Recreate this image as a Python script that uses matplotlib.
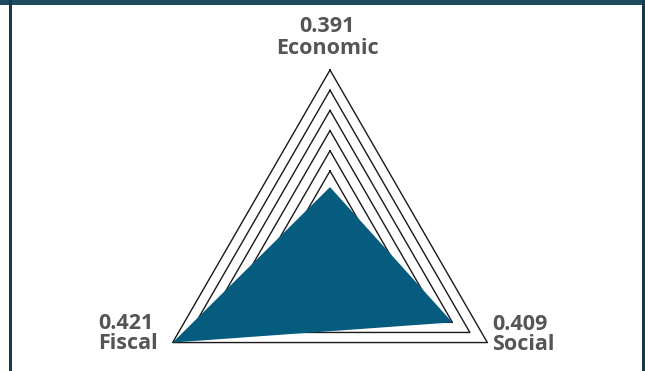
import numpy as np
import matplotlib
matplotlib.use("Agg")
import matplotlib.pyplot as plt

# ---- data ----
categories = ["Economic", "Social", "Fiscal"]
display_values = [0.391, 0.409, 0.421]
# radial position of each vertex in grid-ring units (outer ring = 9)
plotted_scores = [3.2, 7.0, 9.0]
ring_levels = [1, 2, 3, 4, 5, 6, 7, 8, 9]
angles_deg = [90, -30, 210]

W, H = 645, 371
fig = plt.figure(figsize=(W / 100, H / 100), dpi=100)
fig.patch.set_facecolor("white")

# polar axes placed so centre/radius match the reference
cx, cy, R = 330.0, 251.7, 181.7
ax = fig.add_axes([(cx - R) / W, (H - cy - R) / H, 2 * R / W, 2 * R / H],
                  projection="polar")
ax.set_facecolor("none")
ax.set_ylim(0, 9)
ax.grid(False)
ax.set_xticks([])
ax.set_yticks([])
ax.spines["polar"].set_visible(False)

theta = np.deg2rad(angles_deg)
theta_closed = np.append(theta, theta[0])
for lvl in ring_levels:
    ax.plot(theta_closed, [lvl] * len(theta_closed), color="#1a1a1a",
            lw=1.0, zorder=1, clip_on=False)

vals = np.append(plotted_scores, plotted_scores[0])
ax.fill(theta_closed, vals, color="#055C7E", zorder=2, lw=0, clip_on=False)

# labels
txt_kw = dict(fontsize=15.5, fontweight="bold", color="#555555",
              family=["Open Sans", "DejaVu Sans"], va="baseline")
def fx(px):
    return px / W
def fy(py):
    return 1 - py / H

fig.text(fx(327), fy(32), f"{display_values[0]:.3f}", ha="center", **txt_kw)
fig.text(fx(327), fy(54), categories[0], ha="center", **txt_kw)
fig.text(fx(492), fy(330), f"{display_values[1]:.3f}", ha="left", **txt_kw)
fig.text(fx(492), fy(350), categories[1], ha="left", **txt_kw)
fig.text(fx(98), fy(329), f"{display_values[2]:.3f}", ha="left", **txt_kw)
fig.text(fx(98), fy(349), categories[2], ha="left", **txt_kw)

# frame: top bar and side rules
frame_ax = fig.add_axes([0, 0, 1, 1], zorder=-5)
frame_ax.set_xlim(0, W)
frame_ax.set_ylim(H, 0)
frame_ax.axis("off")
frame_ax.axhspan(0, 5, color="#1E4B5F", lw=0)
frame_ax.axvspan(9, 12, color="#163A4A", lw=0)
frame_ax.axvspan(642, 645, color="#163A4A", lw=0)

fig.savefig("out.png", dpi=100, facecolor="white")
